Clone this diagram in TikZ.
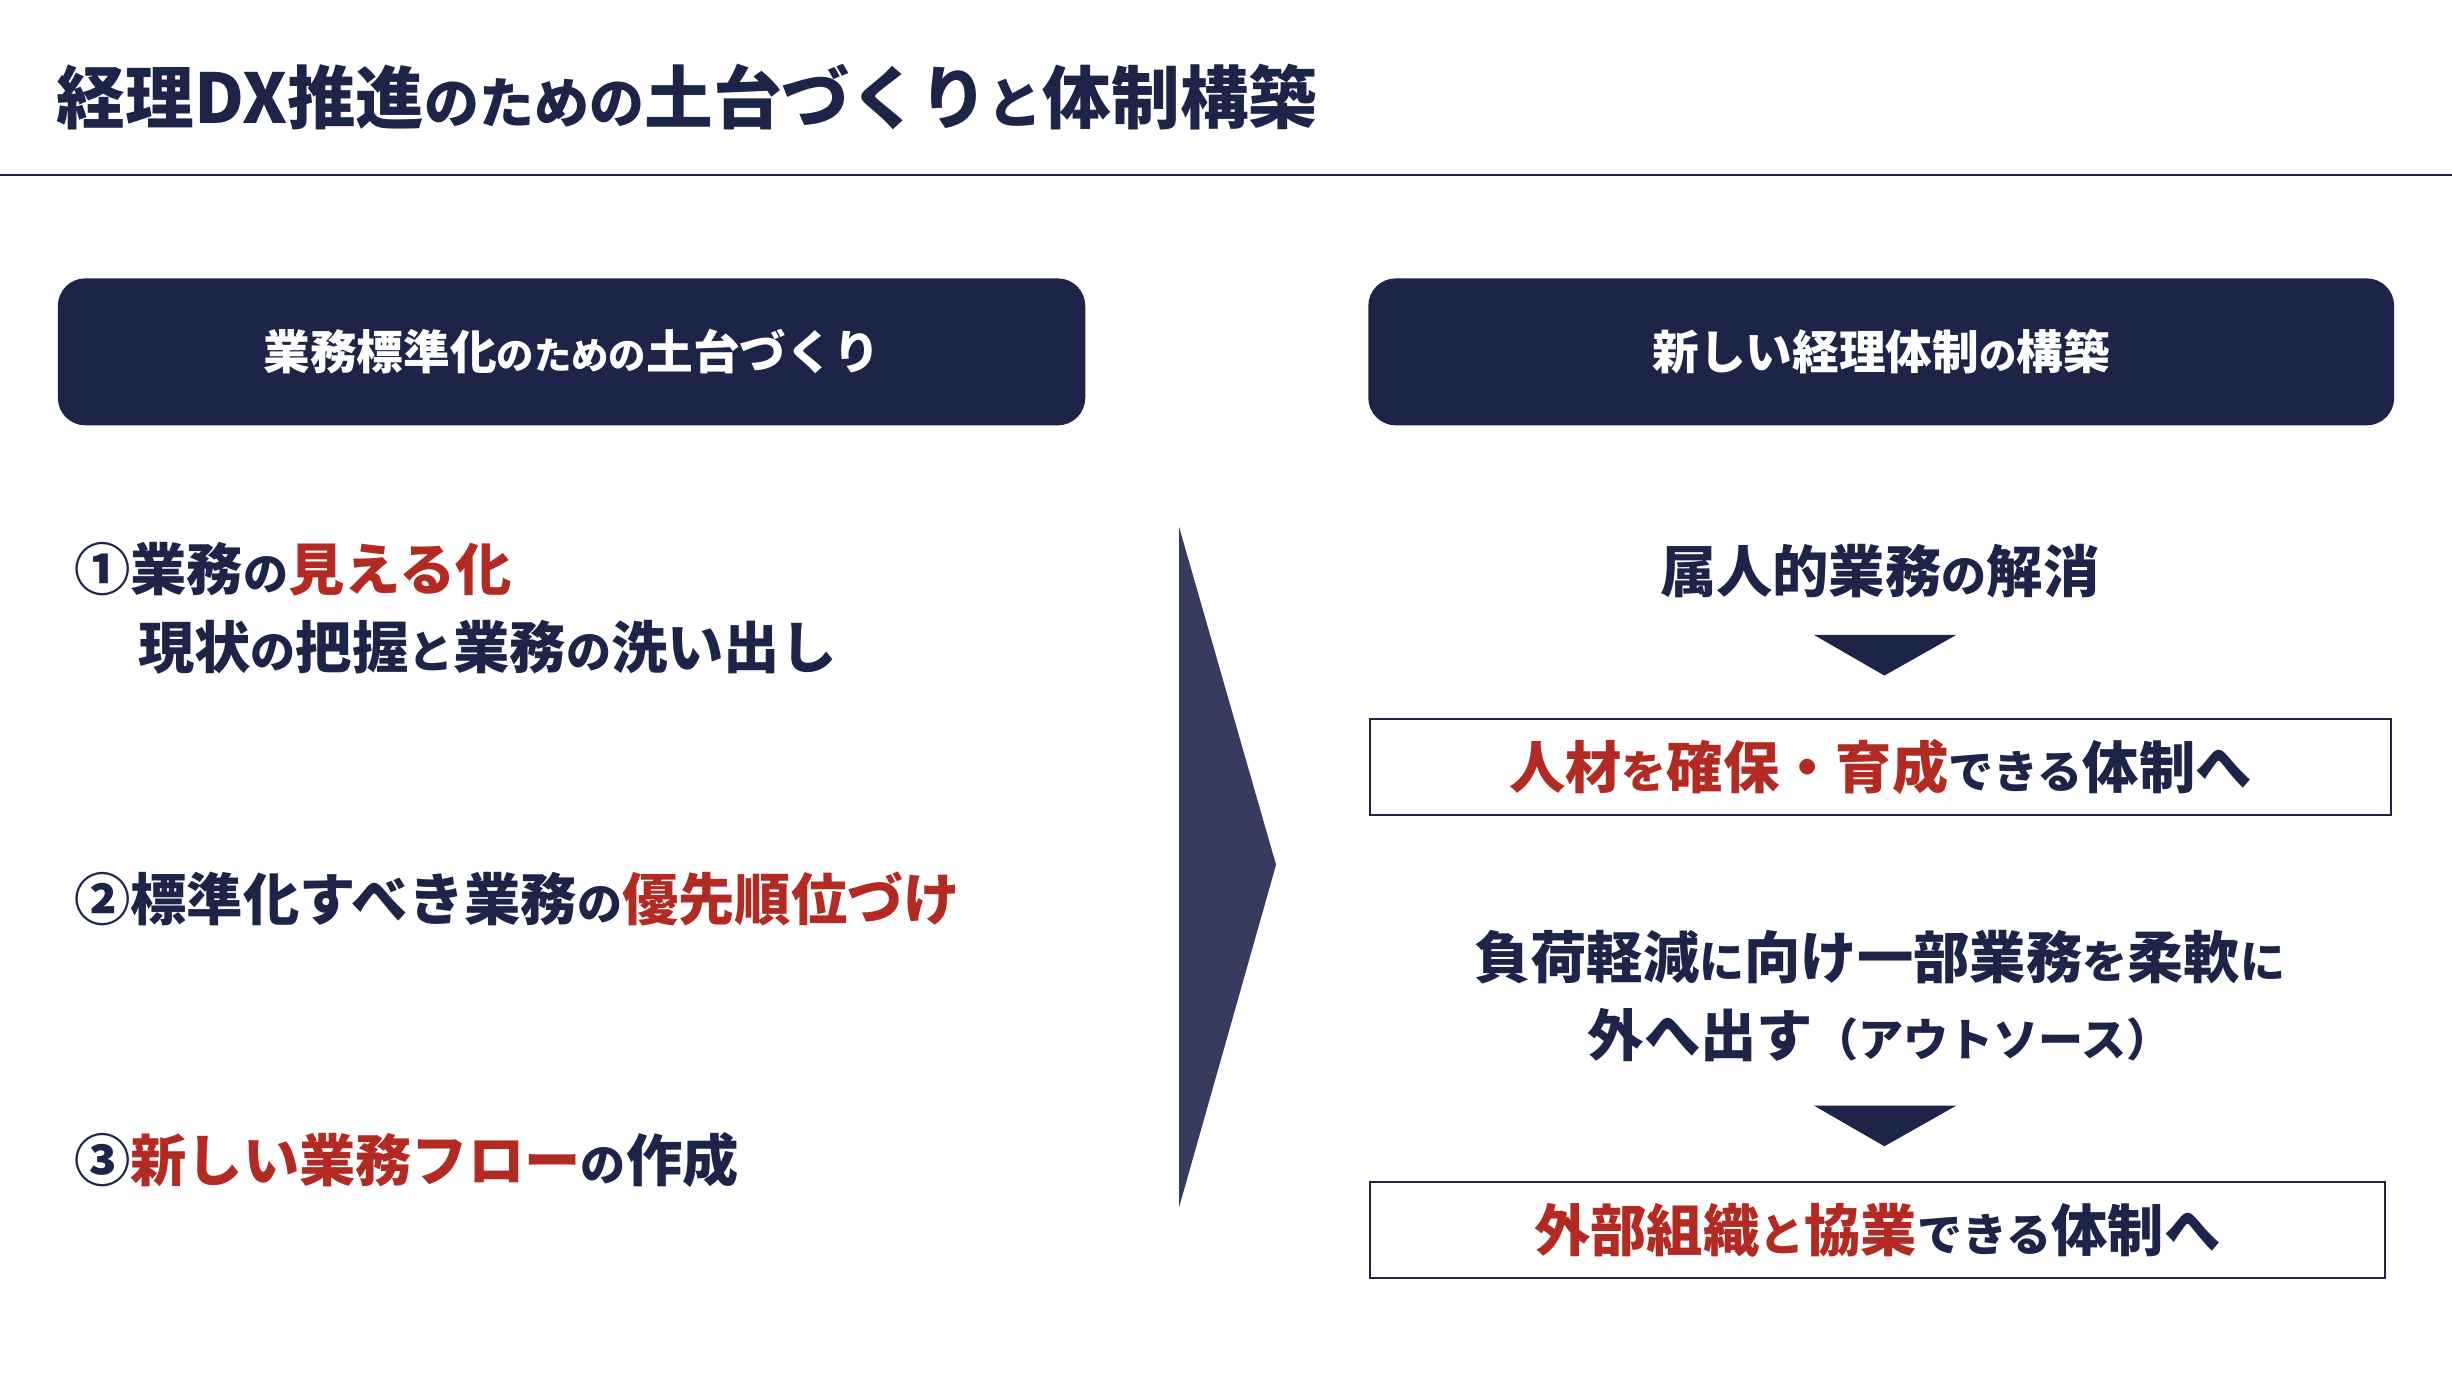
\documentclass[tikz,border=0pt]{standalone}
\usepackage{fontspec}
\setmainfont{Noto Sans CJK JP}
\definecolor{navy}{HTML}{1C2448}
\definecolor{chev}{HTML}{353C5E}
\definecolor{accent}{HTML}{B22A22}
\newcommand{\sm}[1]{{\fontsize{0.8em}{1em}\selectfont #1}}
\newcommand{\rd}[1]{\textcolor{accent}{#1}}
\tikzset{
 hdr/.style={fill=navy,rounded corners=10pt,draw=none},
 hdrtxt/.style={text=white,font=\bfseries\fontsize{17}{20}\selectfont},
 item/.style={anchor=west,text=navy,font=\bfseries\fontsize{20.5}{24}\selectfont,inner sep=0},
 rtxt/.style={text=navy,font=\bfseries\fontsize{20.5}{24}\selectfont,inner sep=0},
 obox/.style={draw=navy,line width=0.8pt,fill=white},
 tri/.style={fill=navy},
}
\begin{document}
\begin{tikzpicture}[x=0.02cm,y=-0.02cm]
\useasboundingbox (0,0) rectangle (1568,880);
\node[anchor=west,text=navy,font=\bfseries\fontsize{25}{30}\selectfont,inner sep=0] (title) at (36,62) {経理DX推進\sm{のための}土台づくり\sm{と}体制構築};
\draw[navy,line width=0.8pt] (0,112) -- (1568,112);
\node[hdr,minimum width=657*0.02cm,minimum height=94*0.02cm] (lh) at (365.5,225) {};
\node[hdrtxt] at (lh) {業務標準化\sm{のための}土台づくり};
\node[hdr,minimum width=656*0.02cm,minimum height=94*0.02cm] (rh) at (1203,225) {};
\node[hdrtxt] at (rh) {新しい経理体制\sm{の}構築};
\node[item] (i1) at (47,364) {①業務\sm{の}\rd{見える化}};
\node[item] (i1b) at (88,414) {現状\sm{の}把握\sm{と}業務\sm{の}洗い出し};
\node[item] (i2) at (47,575) {②標準化すべき業務\sm{の}\rd{優先順位づけ}};
\node[item] (i3) at (47,742) {③\rd{新しい業務フロー}\sm{の}作成};
\fill[chev] (754,337) -- (816,553) -- (754,772) -- cycle;
\node[rtxt] (r1) at (1202,365) {属人的業務\sm{の}解消};
\fill[tri] (1160,406) -- (1251,406) -- (1205,432) -- cycle;
\node[obox,minimum width=653*0.02cm,minimum height=61*0.02cm] (b1) at (1202.5,490.5) {};
\node[rtxt] at (b1) {\rd{人材\sm{を}確保・育成}\sm{できる}体制へ};
\node[rtxt] (r2) at (1202,612) {負荷軽減\sm{に}向け一部業務\sm{を}柔軟\sm{に}};
\node[rtxt] (r3) at (1202,662) {外へ出す\sm{（アウトソース）}};
\fill[tri] (1160,707) -- (1251,707) -- (1205,733) -- cycle;
\node[obox,minimum width=649*0.02cm,minimum height=61*0.02cm] (b2) at (1200.5,786.5) {};
\node[rtxt] at (b2) {\rd{外部組織\sm{と}協業}\sm{できる}体制へ};
\end{tikzpicture}
\end{document}
